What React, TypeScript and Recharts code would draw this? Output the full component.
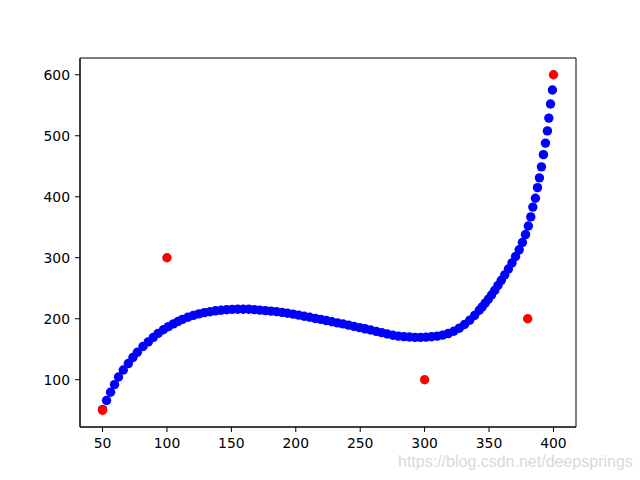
import React from 'react';
import { ScatterChart, Scatter, XAxis, YAxis, ReferenceArea } from 'recharts';

const blueX = [
  50, 53.1, 56.2, 59.3, 62.4, 66.1, 70.0, 73.6, 77.0, 81.4, 85.5, 89.4, 93.1, 97.2, 101.1, 105.0, 108.6, 112.0,
  116.2, 120.5, 124.8, 129.1, 133.4, 137.7, 142.0, 146.3, 150.6, 154.9, 159.2, 163.5, 167.8, 172.1, 176.4, 180.7,
  185.0, 189.3, 193.6, 197.9, 202.2, 206.5, 210.8, 215.1, 219.4, 223.7, 228.0, 232.3, 236.6, 240.9, 245.2, 249.5,
  253.8, 258.1, 262.4, 266.7, 271.0, 275.3, 279.6, 283.9, 288.2, 292.5, 296.8, 301.1, 305.4, 309.7, 314.0, 318.3,
  322.6, 326.9, 331.0, 335.0, 338.8, 342.4, 344.7, 347.0, 349.4, 351.9, 354.4, 356.9, 359.5, 362.2, 365.0, 367.8,
  370.6, 373.4, 375.9, 378.3, 380.5, 382.4, 384.0, 386.0, 387.6, 389.1, 390.7, 392.2, 393.8, 395.3, 396.4, 397.7, 399.2,
];
const blueY = [
  51, 66, 79.5, 92, 104.5, 116, 126.5, 136.5, 145, 154.5, 162, 169.5, 176, 182, 187, 191.5, 195.5, 199,
  202.5, 205.5, 208, 210, 211.5, 213, 214, 214.8, 215.3, 215.5, 215.5, 215.5, 215, 214.2, 213.3, 212.5,
  211.6, 210.5, 209, 207.5, 206, 204, 202.5, 200.5, 199, 197, 195, 193.3, 191.5, 189.5, 187.5, 185.5,
  183.5, 181.5, 179.3, 177.3, 175, 173, 171.5, 170.6, 170, 169.5, 169.5, 169.8, 170.5, 171.5, 173.2, 175.7,
  179.5, 184.5, 190.5, 197.5, 205.5, 214, 219.5, 225.5, 232, 239, 246.5, 254.5, 263, 272, 281.5, 291.5,
  302, 313, 325, 338, 352, 367, 383, 397.5, 415, 431, 449, 469, 488, 508, 529, 552, 575,
];
const redX = [50, 100, 300, 380, 400];
const redY = [50, 300, 100, 200, 600];
const xTicks = [50, 100, 150, 200, 250, 300, 350, 400];
const yTicks = [100, 200, 300, 400, 500, 600];
const watermark = 'https://blog.csdn.net/deepsprings';

const blueData = blueX.map((x, i) => ({ x, y: blueY[i] }));
const redData = redX.map((x, i) => ({ x, y: redY[i] }));

const makeDot = (color: string) => (props: any) => {
  if (props.cx == null || props.cy == null) return <g />;
  return <circle cx={props.cx} cy={props.cy} r={4.7} fill={color} stroke="none" />;
};

const tickStyle = { fill: '#000', fontSize: 13.9, fontFamily: 'DejaVu Sans' };

export default function App() {
  return (
    <div style={{ position: 'absolute', left: 0, top: 0, width: 640, height: 480, background: '#fff' }}>
      <ScatterChart width={640} height={480} margin={{ top: 58, right: 64, bottom: 0, left: 0 }}>
        <XAxis
          dataKey="x"
          type="number"
          domain={[32.5, 417.5]}
          ticks={xTicks}
          allowDataOverflow
          height={53}
          tickSize={5}
          tickMargin={6}
          tick={tickStyle}
          axisLine={{ stroke: '#000', strokeWidth: 1 }}
          tickLine={{ stroke: '#000', strokeWidth: 1 }}
        />
        <YAxis
          dataKey="y"
          type="number"
          domain={[22.5, 627.5]}
          ticks={yTicks}
          allowDataOverflow
          width={80}
          tickSize={5}
          tickMargin={5}
          tick={tickStyle}
          axisLine={{ stroke: '#000', strokeWidth: 1 }}
          tickLine={{ stroke: '#000', strokeWidth: 1 }}
        />
        <ReferenceArea x1={32.5} x2={417.5} y1={22.5} y2={627.5} fill="none" fillOpacity={0} stroke="#000" strokeWidth={1} />
        <Scatter data={blueData} shape={makeDot('#0000ff')} isAnimationActive={false} />
        <Scatter data={redData} shape={makeDot('#ff0000')} isAnimationActive={false} />
      </ScatterChart>
      <svg width={640} height={480} style={{ position: 'absolute', left: 0, top: 0, pointerEvents: 'none' }}>
        <text x={398} y={467} fontFamily="Liberation Sans, Arial, sans-serif" fontSize={16} fill="#d9d9d9">
          {watermark}
        </text>
      </svg>
    </div>
  );
}
